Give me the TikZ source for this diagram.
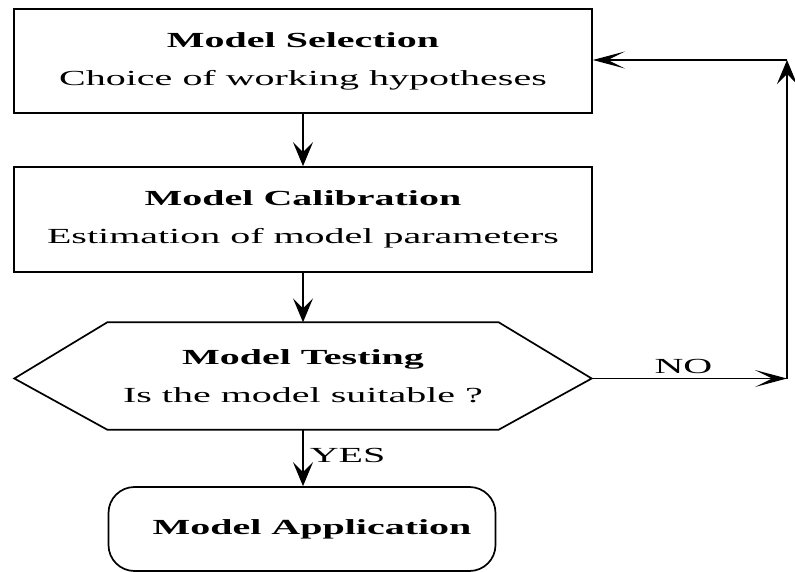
\documentclass[tikz,border=0pt]{standalone}
\usepackage{fontspec}
\setmainfont{Liberation Serif}[FakeStretch=1.86]
\usetikzlibrary{arrows.meta,calc}

\tikzset{
  txt/.style={font=\fontsize{21.5}{38}\selectfont, align=center, inner sep=0pt},
  stepbox/.style={txt, draw, line width=1.7pt},
  termbox/.style={txt, draw, line width=1.7pt, rounded corners=26pt},
  flow/.style={line width=1.5pt, -{Stealth[length=24pt,width=20pt,inset=10pt]}},
  flowlong/.style={line width=1.5pt, -{Stealth[length=32pt,width=17pt,inset=17pt]}},
  lbl/.style={font=\fontsize{21.5}{24}\selectfont, inner sep=0pt}
}

\begin{document}
\begin{tikzpicture}[x=1pt,y=-1pt]
\useasboundingbox (0,0) rectangle (795,572);

% process boxes
\node[stepbox, minimum width=578pt, minimum height=104pt] (sel) at (303,61)
  {\textbf{Model Selection}\\Choice of working hypotheses};
\node[stepbox, minimum width=578pt, minimum height=105pt] (cal) at (303,219.5)
  {\textbf{Model Calibration}\\Estimation of model parameters};

% decision: pointed hexagon drawn around a text node
\node[txt, minimum width=577pt, minimum height=107pt] (test) at (303,376)
  {\textbf{Model Testing}\\Is the model suitable ?};
\coordinate (testL) at (test.west |- 0,378.5);
\coordinate (testR) at (test.east |- 0,378.5);
\coordinate (testB) at (test.south);
\draw[line width=1.7pt, line join=miter]
  (testL)
  -- ($(test.north west)+(93,0)$)
  -- ($(test.north east)+(-93,0)$)
  -- (testR)
  -- ($(test.south east)+(-93,0)$)
  -- ($(test.south west)+(93,0)$)
  -- cycle;

% terminal
\node[termbox, minimum width=387pt, minimum height=84pt] (app) at (302,529)
  {\hspace*{20pt}\textbf{Model Application}};

% main flow
\draw[flow] (sel.south) -- (cal.north);
\draw[flow] (cal.south) -- (test.north);
\draw[flow] (testB) -- (testB |- app.north)
  node[lbl, pos=0.45, anchor=west, xshift=6pt] (yes) {YES};

% feedback loop
\coordinate (loopB) at (787,378.5);
\coordinate (loopT) at (787,60);
\draw[flowlong] (testR) -- (loopB)
  node[lbl, pos=0.47, above=4pt] (no) {NO};
\draw[flow] (loopB) -- (loopT);
\draw[flowlong] (loopT) -- (sel.east |- loopT);
\end{tikzpicture}
\end{document}
